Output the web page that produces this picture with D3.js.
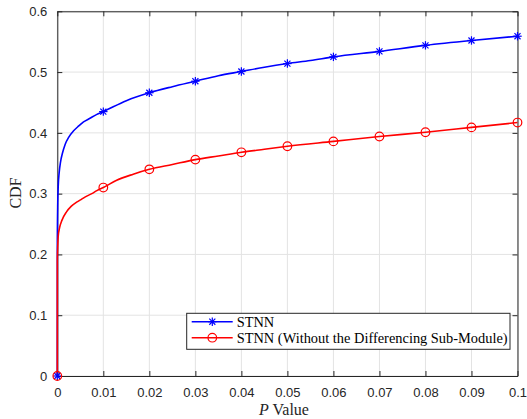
<!DOCTYPE html>
<html><head><meta charset="utf-8">
<script src="https://cdn.jsdelivr.net/npm/d3@7"></script>
<style>body{margin:0;background:#fff}svg{display:block}</style>
</head><body>
<script>
const xTicks = [0,0.01,0.02,0.03,0.04,0.05,0.06,0.07,0.08,0.09,0.1];
const xTickLabels = ["0","0.01","0.02","0.03","0.04","0.05","0.06","0.07","0.08","0.09","0.1"];
const yTicks = [0,0.1,0.2,0.3,0.4,0.5,0.6];
const yTickLabels = ["0","0.1","0.2","0.3","0.4","0.5","0.6"];
const seriesNames = ["STNN","STNN (Without the Differencing Sub-Module)"];
const stnnP   = [0,0.00001,0.0001,0.0002,0.0004,0.0007,0.0011,0.0017,0.0025,0.0035,0.0046,0.0057,0.0071,0.0085,0.01,0.015,0.02,0.025,0.03,0.035,0.04,0.045,0.05,0.055,0.06,0.07,0.08,0.09,0.1];
const stnnCdf = [0,0.22,0.285,0.312,0.334,0.352,0.366,0.381,0.393,0.403,0.411,0.418,0.424,0.430,0.435,0.453,0.466,0.476,0.485,0.494,0.501,0.508,0.514,0.519,0.525,0.534,0.544,0.552,0.559];
const woP   = [0,0.00001,0.0001,0.0002,0.0005,0.001,0.002,0.003,0.0042,0.0053,0.0064,0.0075,0.0086,0.01,0.0129,0.0165,0.02,0.025,0.03,0.035,0.04,0.045,0.05,0.06,0.07,0.08,0.09,0.1];
const woCdf = [0,0.19,0.215,0.23,0.244,0.256,0.270,0.279,0.286,0.291,0.296,0.300,0.305,0.310,0.322,0.332,0.340,0.348,0.356,0.362,0.368,0.373,0.378,0.386,0.394,0.401,0.409,0.417];
const markerP = [0,0.01,0.02,0.03,0.04,0.05,0.06,0.07,0.08,0.09,0.1];

const W=527,H=419;
const m={l:57.3,r:517.5,t:11.3,b:376};
const svg=d3.select("body").append("svg").attr("width",W).attr("height",H);
const x=d3.scaleLinear().domain([0,0.1]).range([m.l,m.r]);
const y=d3.scaleLinear().domain([0,0.6]).range([m.b,m.t]);
const axisCol="#262626";

const g=svg.append("g");
g.selectAll(".vg").data(xTicks).enter().append("line")
 .attr("x1",d=>x(d)).attr("x2",d=>x(d)).attr("y1",m.t).attr("y2",m.b)
 .attr("stroke","#e3e3e3").attr("stroke-width",1);
g.selectAll(".hg").data(yTicks).enter().append("line")
 .attr("y1",d=>y(d)).attr("y2",d=>y(d)).attr("x1",m.l).attr("x2",m.r)
 .attr("stroke","#e3e3e3").attr("stroke-width",1);

const font="'Liberation Sans', Arial, sans-serif";
const xb=svg.append("g").attr("transform",`translate(0,${m.b})`)
 .call(d3.axisBottom(x).tickValues(xTicks).tickSizeInner(-5).tickSizeOuter(0).tickPadding(12).tickFormat((d,i)=>xTickLabels[i]));
const xt=svg.append("g").attr("transform",`translate(0,${m.t})`)
 .call(d3.axisTop(x).tickValues(xTicks).tickSizeInner(-5).tickSizeOuter(0).tickFormat(""));
const yl=svg.append("g").attr("transform",`translate(${m.l},0)`)
 .call(d3.axisLeft(y).tickValues(yTicks).tickSizeInner(-5).tickSizeOuter(0).tickPadding(10).tickFormat((d,i)=>yTickLabels[i]));
const yr=svg.append("g").attr("transform",`translate(${m.r},0)`)
 .call(d3.axisRight(y).tickValues(yTicks).tickSizeInner(-5).tickSizeOuter(0).tickFormat(""));
[xb,xt,yl,yr].forEach(a=>{
  a.selectAll("path").attr("stroke",axisCol).attr("stroke-width",1);
  a.selectAll("line").attr("stroke",axisCol).attr("stroke-width",1);
  a.selectAll("text").attr("fill",axisCol).style("font-family",font).style("font-size","13px");
});

const line=d3.line().x(d=>x(d[0])).y(d=>y(d[1])).curve(d3.curveMonotoneX);
const blueData=stnnP.map((p,i)=>[p,stnnCdf[i]]);
const redData=woP.map((p,i)=>[p,woCdf[i]]);
svg.append("path").datum(blueData).attr("d",line).attr("fill","none").attr("stroke","#0000ff").attr("stroke-width",1.6);
svg.append("path").datum(redData).attr("d",line).attr("fill","none").attr("stroke","#ff0000").attr("stroke-width",1.6);

function valAt(ps,cs,p){return cs[ps.indexOf(p)];}
function star(sel,cx,cy,r,col){
  const gg=sel.append("g").attr("transform",`translate(${cx},${cy})`).attr("stroke",col).attr("stroke-width",1.2);
  gg.append("line").attr("x1",-r).attr("x2",r).attr("y1",0).attr("y2",0);
  gg.append("line").attr("y1",-r).attr("y2",r).attr("x1",0).attr("x2",0);
  const k=r*0.72;
  gg.append("line").attr("x1",-k).attr("x2",k).attr("y1",-k).attr("y2",k);
  gg.append("line").attr("x1",-k).attr("x2",k).attr("y1",k).attr("y2",-k);
}
function circ(sel,cx,cy,r,col){
  sel.append("circle").attr("cx",cx).attr("cy",cy).attr("r",r).attr("fill","none").attr("stroke",col).attr("stroke-width",1.2);
}
const mk=svg.append("g");
markerP.forEach(p=>star(mk,x(p),y(valAt(stnnP,stnnCdf,p)),4.2,"#0000ff"));
markerP.forEach(p=>circ(mk,x(p),y(valAt(woP,woCdf,p)),4.3,"#ff0000"));

svg.append("text").attr("x",284).attr("y",415).attr("text-anchor","middle")
 .style("font-family","'Liberation Serif','Times New Roman',serif").style("font-size","16px").attr("fill",axisCol)
 .html('<tspan font-style="italic">P</tspan> Value');
svg.append("text").attr("transform","translate(21,193) rotate(-90)").attr("text-anchor","middle")
 .style("font-family","'Liberation Serif','Times New Roman',serif").style("font-size","16px").attr("fill",axisCol)
 .text("CDF");

const lg=svg.append("g");
lg.append("rect").attr("x",186.7).attr("y",313.3).attr("width",323.3).attr("height",36)
 .attr("fill","#fff").attr("stroke",axisCol).attr("stroke-width",1);
const cols=["#0000ff","#ff0000"];
seriesNames.forEach((n,i)=>{
  const yy=321.7+i*16;
  lg.append("line").attr("x1",191.7).attr("x2",232.7).attr("y1",yy).attr("y2",yy).attr("stroke",cols[i]).attr("stroke-width",1.6);
  if(i===0) star(lg,212.3,yy,4.2,cols[i]); else circ(lg,212.3,yy,4.3,cols[i]);
  lg.append("text").attr("x",236.7).attr("y",yy+4.9).text(n)
   .style("font-family","'Liberation Serif','Times New Roman',serif").style("font-size","14.4px").attr("fill","#000");
});
</script>
</body></html>
